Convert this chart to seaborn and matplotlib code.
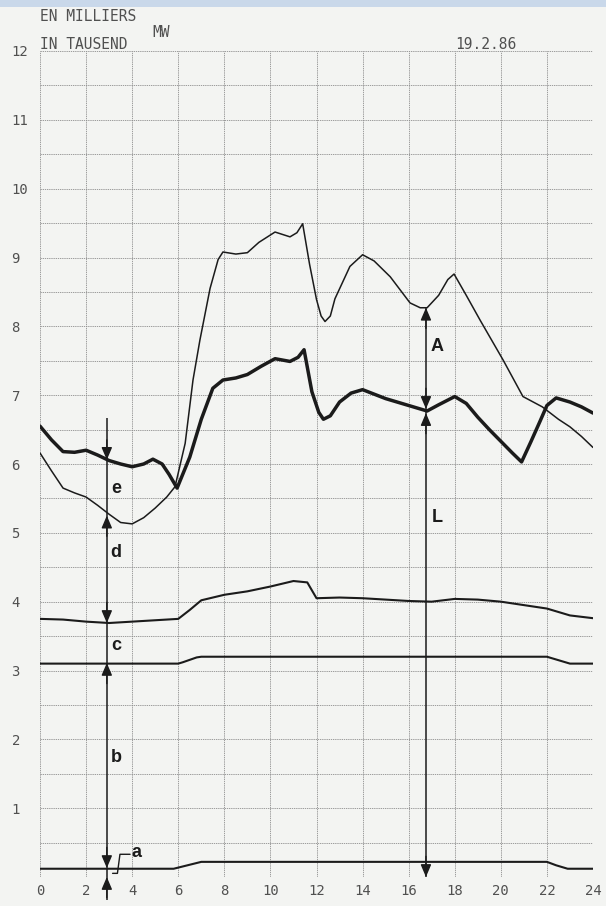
import matplotlib
matplotlib.use('Agg')
import matplotlib.pyplot as plt
import numpy as np
import pandas as pd
import seaborn as sns
from matplotlib.patches import Rectangle


# thin upper curve
upper_hours = [0, 0.5, 1.0, 1.5, 2.0, 2.5, 3.0, 3.5, 4.0, 4.5, 5.0, 5.5, 5.86, 6.3, 6.64, 6.94, 7.38, 7.73,
               7.94, 8.5, 9.0, 9.5, 10.2, 10.85, 11.15, 11.4, 11.7, 12.0, 12.2, 12.37, 12.6, 12.8, 13.45, 14.0,
               14.5, 15.2, 16.06, 16.5, 16.8, 17.3, 17.7, 17.97, 18.5, 19.1, 20.1, 20.96, 21.8, 22.5, 23.0,
               23.5, 24.0]
upper_mw = [6.16, 5.9, 5.65, 5.58, 5.52, 5.4, 5.27, 5.15, 5.13, 5.22, 5.36, 5.52, 5.67, 6.3, 7.22, 7.8, 8.55, 8.97,
            9.08, 9.05, 9.07, 9.22, 9.37, 9.3, 9.36, 9.49, 8.9, 8.39, 8.15, 8.07, 8.15, 8.4, 8.87, 9.04,
            8.95, 8.72, 8.34, 8.27, 8.27, 8.45, 8.68, 8.76, 8.45, 8.09, 7.51, 6.98, 6.83, 6.65, 6.54,
            6.4, 6.24]

# thick load curve
load_hours = [0, 0.5, 1.0, 1.5, 2.0, 2.5, 3.0, 3.5, 4.0, 4.5, 4.9, 5.3, 5.6, 5.95, 6.5, 7.0, 7.5,
              7.94, 8.5, 9.0, 9.6, 10.2, 10.85, 11.2, 11.46, 11.8, 12.1, 12.3, 12.6, 13.0, 13.5, 14.0,
              15.0, 16.0, 16.5, 16.8, 17.3, 18.0, 18.5, 19.0, 19.5, 20.0, 20.5, 20.9, 21.3, 21.7, 22.0,
              22.4, 23.0, 23.5, 24.0]
load_mw = [6.55, 6.35, 6.18, 6.17, 6.2, 6.13, 6.05, 6.0, 5.96, 6.0, 6.07, 6.0, 5.85, 5.65, 6.1, 6.65, 7.1,
           7.22, 7.25, 7.3, 7.42, 7.53, 7.49, 7.55, 7.66, 7.05, 6.75, 6.65, 6.7, 6.9, 7.03, 7.08,
           6.95, 6.85, 6.8, 6.77, 6.86, 6.98, 6.88, 6.68, 6.5, 6.33, 6.16, 6.03, 6.32, 6.62, 6.85,
           6.96, 6.9, 6.83, 6.74]

# band d/c boundary
line_d_hours = [0, 1, 2, 3, 4, 5, 6, 6.5, 7, 8, 9, 10, 11, 11.6, 12, 13, 14, 15, 16, 17, 18, 19, 20, 21, 22, 23, 24]
line_d_mw = [3.75, 3.74, 3.71, 3.69, 3.71, 3.73, 3.75, 3.88, 4.02, 4.1, 4.15, 4.22, 4.3, 4.28, 4.05, 4.06,
             4.05, 4.03, 4.01, 4.0, 4.04, 4.03, 4.0, 3.95, 3.9, 3.8, 3.76]

# band c/b boundary
line_c_hours = [0, 6.0, 6.2, 6.8, 7.0, 22.0, 22.3, 22.8, 23.0, 24.0]
line_c_mw = [3.1, 3.1, 3.12, 3.19, 3.2, 3.2, 3.17, 3.12, 3.1, 3.1]

# band a
line_a_hours = [0, 5.8, 6.4, 7.0, 22.0, 22.4, 22.9, 24.0]
line_a_mw = [0.12, 0.12, 0.17, 0.22, 0.22, 0.17, 0.12, 0.12]

# dimension marks
left_x = 2.9
left_span = (6.67, -0.33)
left_heads = [(6.06, 6.35), (5.25, 4.95), (3.69, 3.99), (3.11, 2.81), (0.13, 0.43), (0.0, -0.3)]
right_x = 16.75
right_span = (8.27, 0.0)
right_heads = [(8.27, 7.97), (6.80, 7.10), (6.74, 6.44), (0.0, 0.3)]
letters = ['e', 'd', 'c', 'b', 'a', 'A', 'L']
letter_x = [3.3, 3.3, 3.32, 3.32, 4.17, 17.23, 17.23]
letter_y = [5.65, 4.71, 3.37, 1.74, 0.36, 7.7, 5.22]
leader_x = [3.15, 3.36, 3.47, 3.91]
leader_y = [0.053, 0.053, 0.33, 0.33]

x_ticks = list(range(0, 25, 2))
y_ticks = list(range(0, 13))
y_labels = [''] + [str(v) for v in range(1, 13)]

INK = '#1b1b1b'
GREY = '#505050'
PAPER = '#f3f4f2'

sns.set_style('white')
plt.rcParams['font.family'] = ['DejaVu Sans Mono']

fig = plt.figure(figsize=(6.06, 9.06), dpi=100)
fig.patch.set_facecolor(PAPER)
fig.add_artist(Rectangle((0, 1 - 7 / 906), 1, 7 / 906, transform=fig.transFigure,
                         facecolor='#c9d8ea', edgecolor='none'))
ax = fig.add_axes([40 / 606, 29 / 906, 553 / 606, 826 / 906])
ax.set_facecolor(PAPER)

series = [
    (upper_hours, upper_mw, 1.1),
    (load_hours, load_mw, 2.5),
    (line_d_hours, line_d_mw, 1.5),
    (line_c_hours, line_c_mw, 1.5),
    (line_a_hours, line_a_mw, 1.5),
]
for hrs, vals, lw in series:
    df = pd.DataFrame({'hour': hrs, 'mw': vals})
    sns.lineplot(data=df, x='hour', y='mw', ax=ax, color=INK, linewidth=lw, errorbar=None)

# dimension lines
ax.vlines(left_x, left_span[1], left_span[0], color=INK, lw=1.1, clip_on=False)
ax.vlines(right_x, right_span[1], right_span[0], color=INK, lw=1.1, clip_on=False)
head_style = '-|>,head_length=0.75,head_width=0.32'
for x, heads in [(left_x, left_heads), (right_x, right_heads)]:
    for tip, base in heads:
        ax.annotate('', xy=(x, tip), xytext=(x, base),
                    arrowprops=dict(arrowstyle=head_style, color=INK, lw=1.0,
                                    shrinkA=0, shrinkB=0),
                    annotation_clip=False)
ax.plot(leader_x, leader_y, color=INK, lw=1.0)
for s, x, y in zip(letters, letter_x, letter_y):
    ax.text(x, y, s, ha='center', va='center', fontsize=13, fontweight='bold',
            family='Liberation Sans', color=INK)

ax.set_xlim(0, 24)
ax.set_ylim(0, 12)
ax.set_xticks(x_ticks)
ax.set_yticks(y_ticks)
ax.set_yticklabels(y_labels)
ax.set_yticks(np.arange(0, 12.5, 0.5), minor=True)
ax.set_xlabel('')
ax.set_ylabel('')
for sp in ax.spines.values():
    sp.set_visible(False)

grid_kw = dict(color='#8e8e8e', linestyle=(0, (1.6, 1.0)), linewidth=0.6)
ax.grid(which='major', axis='x', **grid_kw)
ax.grid(which='both', axis='y', **grid_kw)
ax.tick_params(axis='both', which='major', direction='inout', length=7, width=0.9,
               color='#3a3a3a', labelcolor=GREY, labelsize=10)
ax.tick_params(axis='x', pad=1.5)
ax.tick_params(axis='y', pad=17)
ax.tick_params(axis='y', which='minor', length=0)
for lab in ax.get_yticklabels():
    lab.set_horizontalalignment('left')

hdr = dict(transform=ax.transAxes, fontsize=10.5, color=GREY, va='center', ha='left')
ax.text(0.0, 1.0412, 'EN MILLIERS', **hdr)
ax.text(0.203, 1.0230, 'MW', **hdr)
ax.text(0.0, 1.0073, 'IN TAUSEND', **hdr)
ax.text(0.750, 1.0073, '19.2.86', **hdr)

fig.savefig('out.png', dpi=100, facecolor=fig.get_facecolor())
